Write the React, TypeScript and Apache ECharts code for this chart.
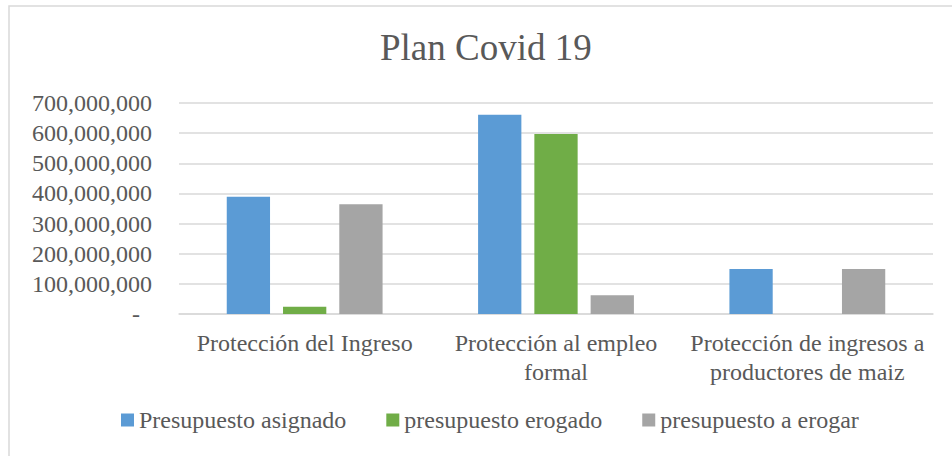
import React, { useEffect, useRef } from "react";
import * as echarts from "echarts";

const categories = [
  "Protección del Ingreso",
  "Protección al empleo\nformal",
  "Protección de ingresos a\nproductores de maiz",
];
const seriesNames = ["Presupuesto asignado", "presupuesto erogado", "presupuesto a erogar"];
const asignado = [389000000, 661000000, 149000000];
const erogado = [24000000, 597000000, 0];
const aErogar = [364000000, 62000000, 149000000];
const colors = ["#5B9BD5", "#70AD47", "#A5A5A5"];

const FONT = '"Liberation Serif", "Times New Roman", serif';
const TEXT = "#595959";

export default function App() {
  const ref = useRef<HTMLDivElement>(null);
  useEffect(() => {
    if (!ref.current) return;
    const chart = echarts.init(ref.current, null, { renderer: "svg" });
    const values = [asignado, erogado, aErogar];
    chart.setOption({
      animation: false,
      backgroundColor: "#ffffff",
      textStyle: { fontFamily: FONT, color: TEXT },
      title: {
        text: "Plan Covid 19",
        left: 375,
        top: 24,
        textStyle: { fontFamily: FONT, fontSize: 37, fontWeight: "normal", color: TEXT },
      },
      graphic: [
        {
          type: "rect",
          shape: { x: 9, y: 6, width: 960, height: 470 },
          style: { fill: "none", stroke: "#D9D9D9", lineWidth: 1.5 },
          silent: true,
        },
      ],
      legend: {
        left: 116,
        top: 403,
        icon: "rect",
        itemWidth: 13,
        itemHeight: 13,
        itemGap: 40,
        textStyle: { fontFamily: FONT, fontSize: 24, color: TEXT },
        data: seriesNames,
      },
      grid: { left: 179, right: 19, top: 103, bottom: 142, containLabel: false },
      xAxis: {
        type: "category",
        data: categories,
        axisLine: { lineStyle: { color: "#D9D9D9", width: 1.5 } },
        axisTick: { show: false },
        axisLabel: {
          fontFamily: FONT,
          fontSize: 24,
          color: TEXT,
          margin: 14,
          lineHeight: 29,
          interval: 0,
        },
      },
      yAxis: {
        type: "value",
        min: 0,
        max: 700000000,
        interval: 100000000,
        axisLine: { show: false },
        axisTick: { show: false },
        splitLine: { lineStyle: { color: "#D9D9D9", width: 1.5 } },
        axisLabel: {
          fontFamily: FONT,
          fontSize: 24,
          color: TEXT,
          margin: 27,
          formatter: (v: number) =>
            v === 0 ? "{d|-}" : v.toLocaleString("en-US"),
          rich: {
            d: { fontFamily: FONT, fontSize: 24, color: TEXT, padding: [0, 12, 0, 0] },
          },
        },
      },
      series: seriesNames.map((name, i) => ({
        name,
        type: "bar",
        data: values[i],
        barGap: "30%",
        barCategoryGap: "38%",
        itemStyle: { color: colors[i] },
      })),
    });
    return () => chart.dispose();
  }, []);
  return (
    <div
      ref={ref}
      style={{ position: "fixed", left: 0, top: 0, width: 952, height: 456 }}
    />
  );
}
